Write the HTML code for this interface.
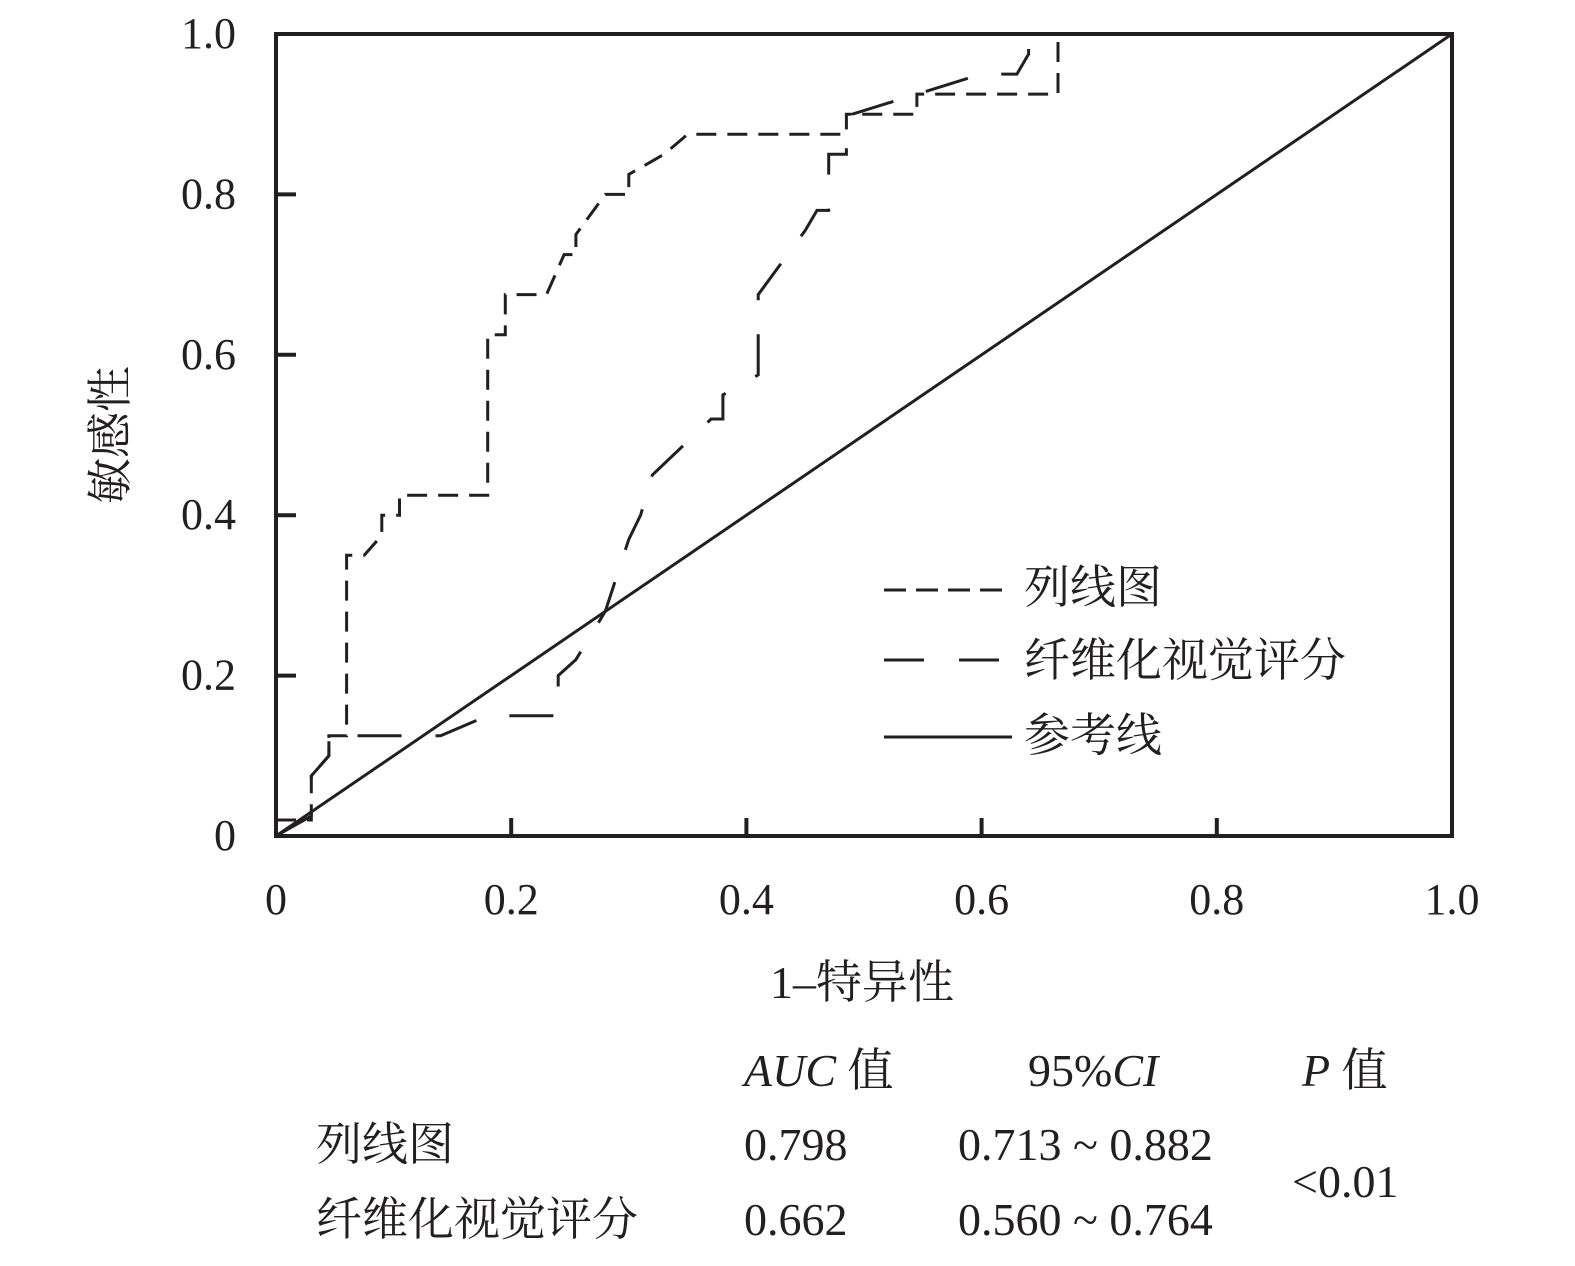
<!DOCTYPE html>
<html><head><meta charset="utf-8"><style>
body{margin:0;background:#fff;}
svg text{font-family:"Liberation Serif","Noto Serif CJK SC","Noto Sans CJK SC",serif;fill:#231f20;}
</style></head><body>
<svg id="chart" width="1575" height="1261" xmlns="http://www.w3.org/2000/svg">
<g id="plot"></g>
</svg>
<script>
const xTicks=[0,0.2,0.4,0.6,0.8,1.0];
const xTickLabels=["0","0.2","0.4","0.6","0.8","1.0"];
const yTicks=[0,0.2,0.4,0.6,0.8,1.0];
const yTickLabels=["0","0.2","0.4","0.6","0.8","1.0"];
const nomoX=[0,0.03,0.03,0.03,0.045,0.045,0.06,0.06,0.075,0.09,0.09,0.105,0.105,0.18,0.18,0.195,0.195,0.23,0.245,0.255,0.255,0.28,0.3,0.3,0.33,0.35,0.485,0.485,0.545,0.545,0.665,0.665];
const nomoY=[0.02,0.02,0.05,0.075,0.1,0.125,0.125,0.35,0.35,0.375,0.4,0.4,0.425,0.425,0.625,0.625,0.675,0.675,0.725,0.725,0.75,0.8,0.8,0.825,0.85,0.875,0.875,0.9,0.9,0.925,0.925,1.0];
const visX=[0,0.03,0.03,0.045,0.045,0.13,0.14,0.18,0.24,0.24,0.255,0.28,0.3,0.31,0.32,0.37,0.38,0.38,0.41,0.41,0.45,0.46,0.47,0.47,0.485,0.485,0.49,0.6,0.63,0.64,0.64];
const visY=[0,0.025,0.075,0.1,0.125,0.125,0.125,0.15,0.15,0.2,0.22,0.28,0.37,0.4,0.45,0.52,0.52,0.55,0.575,0.675,0.755,0.78,0.78,0.85,0.85,0.875,0.9,0.95,0.95,0.975,1.0];
const refX=[0,1];
const refY=[0,1];
const NS="http://www.w3.org/2000/svg";
const L=276,R=1452,T=34,B=836;
const sx=v=>L+v*(R-L), sy=v=>B-v*(B-T);
const g=document.getElementById('plot');
function mk(tag,attrs,parent){const e=document.createElementNS(NS,tag);for(const k in attrs)e.setAttribute(k,attrs[k]);(parent||g).appendChild(e);return e;}
function path(xs,ys,dash,name){
 let d=xs.map((x,i)=>(i?'L':'M')+sx(x).toFixed(1)+','+sy(ys[i]).toFixed(1)).join(' ');
 const p=mk('path',{d:d,fill:'none',stroke:'#231f20','stroke-width':3,'stroke-dasharray':dash});
 
 
}
path(refX,refY,'none','reference-line');
path(visX,visY,'44 34','fibrosis-visual-score-curve');
path(nomoX,nomoY,'20 11','nomogram-curve');
const frame=mk('rect',{x:L,y:T,width:R-L,height:B-T,fill:'none',stroke:'#231f20','stroke-width':4});


xTicks.forEach((v,i)=>{
 const t=mk('line',{x1:sx(v),x2:sx(v),y1:B,y2:B-18,stroke:'#231f20','stroke-width':4});
 
 
 const tx=mk('text',{x:sx(v),y:914,'text-anchor':'middle','font-size':44});
 tx.textContent=xTickLabels[i];
 
 
});
yTicks.forEach((v,i)=>{
 const t=mk('line',{x1:L,x2:L+20,y1:sy(v),y2:sy(v),stroke:'#231f20','stroke-width':4});
 
 
 const tx=mk('text',{x:236,y:sy(v)+14,'text-anchor':'end','font-size':44});
 tx.textContent=yTickLabels[i];
 
 
});
</script>
<svg style="position:absolute;left:0;top:0" width="1575" height="1261" xmlns="http://www.w3.org/2000/svg">
<text x="862" y="998" text-anchor="middle" font-size="46">1–特异性</text>
<text transform="translate(126,435) rotate(-90)" text-anchor="middle" font-size="46">敏感性</text>
<g>
<line x1="884" y1="590" x2="1012" y2="590" stroke="#231f20" stroke-width="3" stroke-dasharray="22 10"/>
<text x="1024" y="603" font-size="46">列线图</text>
<line x1="884" y1="660" x2="1012" y2="660" stroke="#231f20" stroke-width="3" stroke-dasharray="40 35"/>
<text x="1024" y="676" font-size="46">纤维化视觉评分</text>
<line x1="884" y1="737" x2="1012" y2="737" stroke="#231f20" stroke-width="3"/>
<text x="1024" y="751" font-size="46">参考线</text>
</g>
<g font-size="46">
<text x="744" y="1086"><tspan font-style="italic">AUC</tspan> 值</text>
<text x="1028" y="1086">95%<tspan font-style="italic">CI</tspan></text>
<text x="1302" y="1086"><tspan font-style="italic">P</tspan> 值</text>
<text x="316" y="1160">列线图</text>
<text x="744" y="1160">0.798</text>
<text x="958" y="1160">0.713 ~ 0.882</text>
<text x="316" y="1235">纤维化视觉评分</text>
<text x="744" y="1235">0.662</text>
<text x="958" y="1235">0.560 ~ 0.764</text>
<text x="1292" y="1197">&lt;0.01</text>
</g>
</svg>
</body></html>
